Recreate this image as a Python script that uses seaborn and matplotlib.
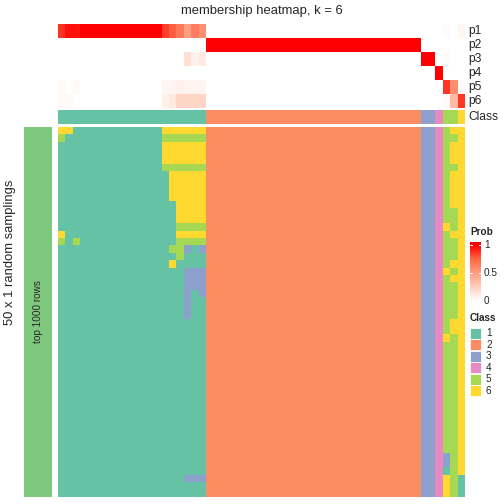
import numpy as np
import seaborn as sns
import matplotlib.pyplot as plt
from matplotlib.colors import ListedColormap, LinearSegmentedColormap
from matplotlib.patches import Rectangle

# ============================================================
# DATA
# ============================================================
title = "membership heatmap, k = 6"
prob_rows = ["p1", "p2", "p3", "p4", "p5", "p6"]
class_ids = [1, 2, 3, 4, 5, 6]
class_colors = ["#66C2A5", "#FC8D62", "#8DA0CB", "#E78AC3", "#A6D854", "#FFD92F"]

# class of each of the 55 samples (top "Class" row)
sample_class = [1] * 20 + [2] * 29 + [3] * 2 + [4] + [5] * 2 + [6]

# membership probabilities per sample, one list per class row
p1 = ([0.88, 0.96, 0.96] + [1.0] * 11 + [0.85, 0.77, 0.67, 0.50, 0.66, 0.57]
      + [0.0] * 29 + [0.0, 0.0, 0.0, 0.02, 0.0, 0.05])
p2 = [0.0] * 20 + [1.0] * 29 + [0.0] * 6
p3 = ([0.0] * 17 + [0.17, 0.07, 0.12]
      + [0.0] * 29 + [1.0, 1.0, 0.0, 0.03, 0.0, 0.0])
p4 = [0.0] * 51 + [1.0, 0.0, 0.0, 0.0]
p5 = ([0.03, 0.0, 0.03] + [0.0] * 11 + [0.05, 0.05, 0.08, 0.06, 0.06, 0.06]
      + [0.0] * 29 + [0.0, 0.0, 0.0, 0.87, 0.58, 0.03])
p6 = ([0.03, 0.03, 0.0] + [0.0] * 11 + [0.08, 0.12, 0.22, 0.22, 0.22, 0.22]
      + [0.0] * 29 + [0.0, 0.0, 0.0, 0.03, 0.37, 0.87])

# predicted class in each of the 50 random samplings (rows) x 55 samples
left_part = (
    ["66111111111111666666", "51111111111111555555"]
    + ["11111111111111666666"] * 3
    + ["11111111111111555555"]
    + ["11111111111111166666"] * 4
    + ["11111111111111116666"] * 3
    + ["11111111111111115555", "61111111111111116666", "51511111111111115555",
       "11111111111111155313", "11111111111111115111", "11111111111111161111"]
    + ["11111111111111111333"] * 3
    + ["11111111111111111313"]
    + ["11111111111111111311"] * 3
    + ["11111111111111111111"] * 21
    + ["11111111111111111333"]
    + ["11111111111111111111"] * 2
)
right_part = (
    ["566", "556"] + ["566"] * 3 + ["556"] + ["566"] * 5 + ["556"] * 2
    + ["656", "566", "556", "556", "556", "566", "656", "566"]
    + ["556"] * 5 + ["566"] * 2 + ["656"] + ["556"] * 15
    + ["356"] * 2 + ["156"] + ["651"] * 3
)
middle_part = "2" * 29 + "334"

row_annot_label = "top 1000 rows"
row_title = "50 x 1 random samplings"
prob_ticks = [1.0, 0.5, 0.0]
prob_tick_labels = ["1", "0.5", "0"]

# ============================================================
# PLOT
# ============================================================
sns.set_style("white")
plt.rcParams["font.family"] = ["Liberation Sans", "DejaVu Sans"]

W = H = 504
fig = plt.figure(figsize=(7, 7), dpi=72)


def px_axes(x0, y0, x1, y1):
    return fig.add_axes([x0 / W, 1 - y1 / H, (x1 - x0) / W, (y1 - y0) / H])


prob_cmap = LinearSegmentedColormap.from_list(
    "prob", [(0, "#FFFFFF"), (0.1, "#FFECE5"), (0.25, "#FFCFBF"),
             (0.5, "#FF9E81"), (0.75, "#FF6846"), (1, "#FF0000")])
class_cmap = ListedColormap(class_colors)

membership = np.array([p1, p2, p3, p4, p5, p6])
samplings = np.array([[int(c) for c in l + middle_part + r]
                      for l, r in zip(left_part, right_part)])

X0, X1 = 58, 465

ax_mem = px_axes(X0, 24, X1, 108)
sns.heatmap(membership, ax=ax_mem, cmap=prob_cmap, vmin=0, vmax=1, cbar=False,
            xticklabels=False, yticklabels=False)

ax_cls = px_axes(X0, 110, X1, 124)
sns.heatmap(np.array([sample_class]), ax=ax_cls, cmap=class_cmap, vmin=0.5,
            vmax=6.5, cbar=False, xticklabels=False, yticklabels=False)

ax_main = px_axes(X0, 127, X1, 497)
sns.heatmap(samplings, ax=ax_main, cmap=class_cmap, vmin=0.5, vmax=6.5,
            cbar=False, xticklabels=False, yticklabels=False)

ax_left = px_axes(24, 127, 52, 497)
sns.heatmap(np.zeros((1, 1)), ax=ax_left, cmap=ListedColormap(["#7FC97F"]),
            cbar=False, xticklabels=False, yticklabels=False)
ax_left.text(0.5, 0.5, row_annot_label, rotation=90, ha="center", va="center",
             fontsize=10, transform=ax_left.transAxes)

# overlay for text and legends in pixel units
ov = fig.add_axes([0, 0, 1, 1])
ov.set_xlim(0, W)
ov.set_ylim(H, 0)
ov.axis("off")

ov.text((X0 + X1) / 2, 11, title, ha="center", va="center", fontsize=13)
ov.text(10, 252, row_title, rotation=90, ha="center", va="center", fontsize=13)
for i, name in enumerate(prob_rows):
    ov.text(468, 31 + 14 * i, name, ha="left", va="center", fontsize=12)
ov.text(468, 117, "Class", ha="left", va="center", fontsize=12)

# Prob legend (bar spans 242..304 px, value 1 at 245, value 0 at 301)
ov.text(470, 232, "Prob", ha="left", va="center", fontsize=10, fontweight="bold")
CB_TOP, CB_BOT = 242, 304
ax_cb = px_axes(470, CB_TOP, 481, CB_BOT)
lo = (CB_BOT - 301) / (CB_BOT - CB_TOP)
hi = (CB_BOT - 245) / (CB_BOT - CB_TOP)
ax_cb.imshow(np.linspace(1, 0, 100)[:, None], aspect="auto", cmap=prob_cmap,
             vmin=0, vmax=1, extent=(0, 1, lo, hi))
ax_cb.set_xlim(0, 1)
ax_cb.set_ylim(0, 1)
ax_cb.set_facecolor("white")
ax_cb.imshow(np.ones((1, 1)), aspect="auto", cmap=ListedColormap(["#FF0000"]),
             extent=(0, 1, hi, 1))
ax_cb.set_xticks([])
ax_cb.set_yticks([])
for s in ax_cb.spines.values():
    s.set_visible(False)
for v, lab in zip(prob_ticks, prob_tick_labels):
    yv = lo + (hi - lo) * v
    if v > 0:
        ax_cb.plot([0, 0.2], [yv, yv], color="white", lw=1)
        ax_cb.plot([0.8, 1], [yv, yv], color="white", lw=1)
    ov.text(484, 301 - 56 * v, lab, ha="left", va="center", fontsize=10)

# Class legend
ov.text(470, 318, "Class", ha="left", va="center", fontsize=10, fontweight="bold")
for i, (cid, col) in enumerate(zip(class_ids, class_colors)):
    y = 328 + 11.4 * i
    ov.add_patch(Rectangle((470, y), 11, 11, facecolor=col, edgecolor="white", lw=0.8))
    ov.text(486, y + 5.5, str(cid), ha="left", va="center", fontsize=10)

fig.savefig("out.png", dpi=72)
